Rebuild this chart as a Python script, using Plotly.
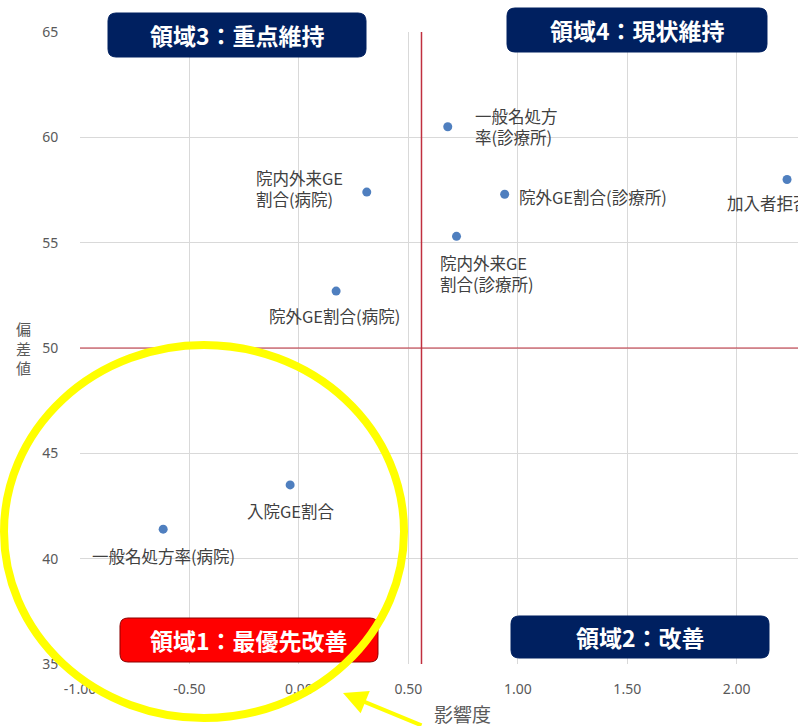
import plotly.graph_objects as go

# ---------------- data ----------------
labels = ["一般名処方率(病院)", "入院GE割合", "院外GE割合(病院)", "院内外来GE<br>割合(病院)",
          "一般名処方<br>率(診療所)", "院外GE割合(診療所)", "院内外来GE<br>割合(診療所)", "加入者拒否率"]
influence = [-0.62, -0.04, 0.17, 0.31, 0.68, 0.94, 0.72, 2.23]
deviation = [41.4, 43.5, 52.7, 57.4, 60.5, 57.3, 55.3, 58.0]
x_ticks = [-1.0, -0.5, 0.0, 0.5, 1.0, 1.5, 2.0]
x_tick_text = ["-1.00", "-0.50", "0.00", "0.50", "1.00", "1.50", "2.00"]
y_ticks = [35, 40, 45, 50, 55, 60, 65]
threshold_x = 0.56
threshold_y = 50
region_texts = ["領域3：重点維持", "領域4：現状維持", "領域1：最優先改善", "領域2：改善"]
y_title_chars = ["偏", "差", "値"]

# label placement (style): xanchor, xshift, yshift
label_pos = [("center", 0, -27), ("center", 1, -26), ("center", -2, -25), ("right", -22, 4),
             ("left", 25, 0), ("left", 12, -3), ("center", 30, -37), ("left", -62, -24)]

W, H = 798, 726
L, R, T, B = 80, 0, 32, 62
PW, PH = W - L - R, H - T - B


def pp(px, py):
    """window pixel -> paper coords"""
    return (px - L) / PW, (H - B - py) / PH


def rrect(x0, y0, x1, y1, r):
    def P(a, b):
        u, v = pp(a, b)
        return f"{u:.5f},{v:.5f}"
    return (f"M {P(x0 + r, y0)} L {P(x1 - r, y0)} Q {P(x1, y0)} {P(x1, y0 + r)} "
            f"L {P(x1, y1 - r)} Q {P(x1, y1)} {P(x1 - r, y1)} L {P(x0 + r, y1)} "
            f"Q {P(x0, y1)} {P(x0, y1 - r)} L {P(x0, y0 + r)} Q {P(x0, y0)} {P(x0 + r, y0)} Z")


FONT = "Noto Sans CJK JP, Noto Sans, sans-serif"

fig = go.Figure()
fig.add_trace(go.Scatter(
    x=influence, y=deviation, mode="markers",
    marker=dict(color="#4f7fbf", size=9),
    hoverinfo="skip", showlegend=False,
))

RED = "#c0303f"
shapes = [
    dict(type="line", xref="x", yref="y", x0=threshold_x, x1=threshold_x, y0=35, y1=65,
         line=dict(color=RED, width=1.5), layer="above"),
    dict(type="line", xref="paper", yref="y", x0=0, x1=1, y0=threshold_y, y1=threshold_y,
         line=dict(color=RED, width=1.2), layer="above"),
]

boxes = [
    (108, 13, 366, 57, "#002060", "#002060"),
    (507, 8, 767, 52, "#002060", "#002060"),
    (120, 618, 378, 662, "#ff0000", "#8b0000"),
    (511, 616, 769, 658, "#002060", "#002060"),
]
annotations = []
for (x0, y0, x1, y1, fc, lc), txt in zip(boxes, region_texts):
    shapes.append(dict(type="path", xref="paper", yref="paper", path=rrect(x0, y0, x1, y1, 8),
                       fillcolor=fc, line=dict(color=lc, width=1), layer="above"))
    cx, cy = pp((x0 + x1) / 2, (y0 + y1) / 2)
    annotations.append(dict(xref="paper", yref="paper", x=cx, y=cy, text=f"<b>{txt}</b>",
                            showarrow=False, xanchor="center", yanchor="middle",
                            font=dict(family=FONT, size=23, color="white")))

# yellow highlight circle
c0 = pp(4, 345)
c1 = pp(404, 718)
shapes.append(dict(type="circle", xref="paper", yref="paper", x0=c0[0], y0=c1[1], x1=c1[0], y1=c0[1],
                   line=dict(color="#ffff00", width=8), fillcolor="rgba(0,0,0,0)", layer="above"))

# point labels
for xv, yv, t, (xa, xs, ys) in zip(influence, deviation, labels, label_pos):
    annotations.append(dict(x=xv, y=yv, xref="x", yref="y", text=t, showarrow=False,
                            xanchor=xa, yanchor="middle", xshift=xs, yshift=ys, align="left",
                            font=dict(family=FONT, size=16.5, color="#404040")))

# axis titles
ax_x = pp(462, 713)
annotations.append(dict(xref="paper", yref="paper", x=ax_x[0], y=ax_x[1], text="影響度",
                        showarrow=False, xanchor="center", yanchor="middle",
                        font=dict(family=FONT, size=19, color="#595959")))
for i, ch in enumerate(y_title_chars):
    p = pp(23, 328 + 20 * i)
    annotations.append(dict(xref="paper", yref="paper", x=p[0], y=p[1], text=ch,
                            showarrow=False, xanchor="center", yanchor="middle",
                            font=dict(family=FONT, size=15, color="#595959")))

# yellow arrow
tip = pp(343, 693)
annotations.append(dict(xref="paper", yref="paper", x=tip[0], y=tip[1], text="",
                        showarrow=True, ax=80, ay=40, arrowhead=2, arrowsize=1.2,
                        arrowwidth=4, arrowcolor="#ffff00", standoff=0))

fig.update_layout(
    width=W, height=H,
    margin=dict(l=L, r=R, t=T, b=B, autoexpand=False),
    paper_bgcolor="white", plot_bgcolor="white",
    shapes=shapes, annotations=annotations,
    font=dict(family=FONT, color="#595959"),
    xaxis=dict(range=[-1.0, 2.28], tickvals=x_ticks, ticktext=x_tick_text,
               showgrid=True, gridcolor="#d9d9d9", gridwidth=1, zeroline=False, showline=False,
               ticks="outside", ticklen=12, tickcolor="rgba(0,0,0,0)",
               tickfont=dict(family="Noto Sans, sans-serif", size=14, color="#595959")),
    yaxis=dict(range=[35, 65], tickvals=y_ticks,
               showgrid=True, gridcolor="#d9d9d9", gridwidth=1, zeroline=False, showline=False,
               ticks="outside", ticklen=18, tickcolor="rgba(0,0,0,0)",
               tickfont=dict(family="Noto Sans, sans-serif", size=14, color="#595959")),
)

fig.write_html("out.html", config={"displayModeBar": False},
               post_script="document.body.style.margin='0';document.body.style.padding='0';"
                           "document.body.style.overflow='hidden';")
